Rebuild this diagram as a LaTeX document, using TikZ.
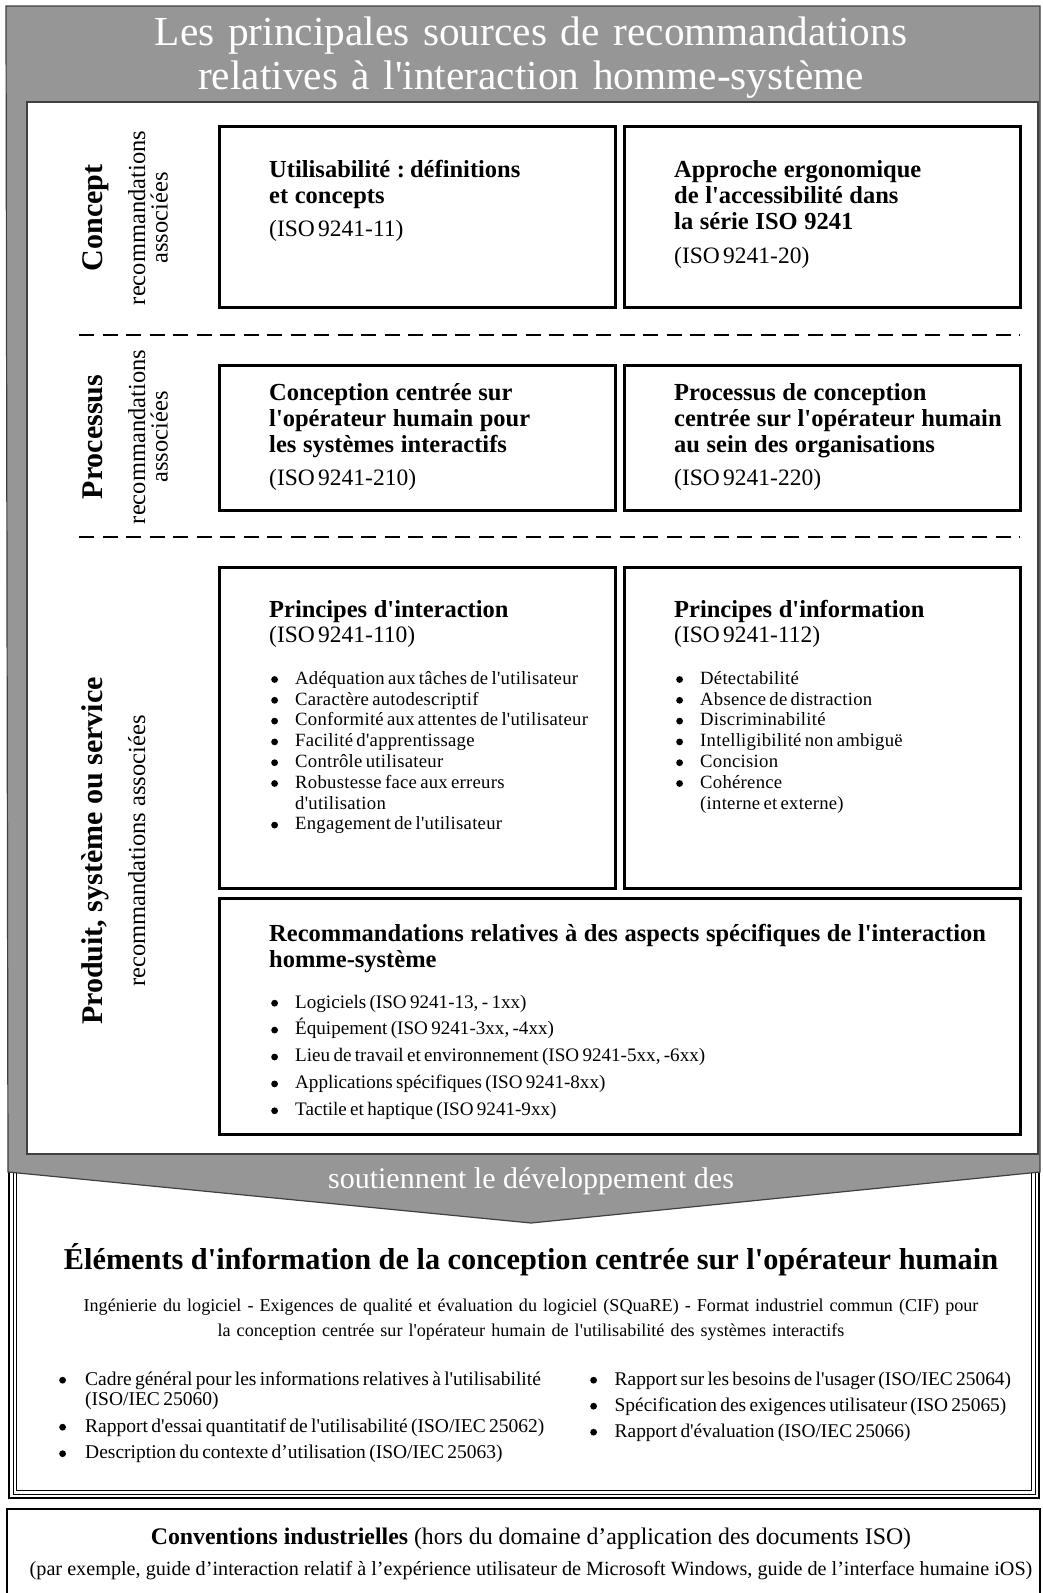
\documentclass[tikz,border=0pt]{standalone}
\usepackage{fontspec}
\setmainfont{Liberation Serif}[Ligatures=TeXOff]
\usetikzlibrary{positioning}
\definecolor{bandgray}{RGB}{150,150,150}
\definecolor{edgegray}{RGB}{64,64,64}
\newcommand{\hdfont}{\fontsize{24.5}{26}\selectfont\bfseries\spaceskip=.27em plus .1em}
\newcommand{\isofont}[1][32.5]{\fontsize{23.5}{#1}\selectfont}
\newcommand{\itfont}{\fontsize{18.7}{20.8}\selectfont\addfontfeature{LetterSpace=1.4}}
\newcommand{\dotmark}{\tikz[baseline=0pt]{\fill (3.4pt,4.8pt) circle[radius=3.4pt];}}
% first item of a list (paragraph already open), then the next ones
\newcommand{\bfirst}[2][26pt]{\noindent\hangindent=#1\hangafter=1\makebox[#1][l]{\hspace{2pt}\smash{\dotmark}}#2}
\newcommand{\bitem}[2][26pt]{\par\bfirst[#1]{#2}}
\begin{document}
\begin{tikzpicture}[x=1pt,y=-1pt,
	srcbox/.style={draw,line width=3pt,fill=white,anchor=north west,inner sep=0pt,outer sep=0pt},
	boxtext/.style={anchor=base west,inner sep=0pt,text width=#1,align=left},
	boxtext/.default=480,
	sidehead/.style={rotate=90,anchor=base,inner sep=0pt,font=\fontsize{30}{30}\selectfont\bfseries},
	sidesub/.style={rotate=90,anchor=base,inner sep=0pt,font=\fontsize{24.5}{24.5}\selectfont},
	sepline/.style={line width=2pt,dash pattern=on 15pt off 8.5pt}]
	\useasboundingbox (0,0) rectangle (1042,1593);
	% lower frame and conventions box
	\draw[line width=2.5pt] (9,1150) rectangle (1039,1498);
	\draw[line width=0.8pt] (13,1150) rectangle (1035,1494);
	\draw[line width=0.8pt] (16.5,1150) rectangle (1031.5,1490.5);
	\draw[line width=1.5pt] (7,1509) rectangle (1040,1600);
	% gray band with arrow
	\draw[edgegray,line width=1.2pt,fill=bandgray] (6,6) -- (1040,6) -- (1040,1172) -- (531,1223) -- (8,1172) -- cycle;
	\node[text=white,text width=1000,align=center,anchor=base,inner sep=0pt,font=\fontsize{41.3}{44}\selectfont] (title) at (531,45) {Les principales sources de recommandations\\relatives à l'interaction homme-système};
	\node[text=white,anchor=base,inner sep=0pt,font=\fontsize{30}{30}\selectfont] (support) at (531,1188) {soutiennent le développement des};
	\node[draw=edgegray,line width=1.5pt,fill=white,anchor=north west,outer sep=0pt,minimum width=1011,minimum height=1052,inner sep=0pt] (panel) at (27,102) {};
	% side labels
	\node[sidehead] (concept) at (102.5,218) {Concept};
	\node[sidesub] (conceptsub) at (145,218) {recommandations};
	\node[sidesub] (conceptsub2) at (167.5,218) {associées};
	\node[sidehead] (process) at (102.5,437) {Processus};
	\node[sidesub] (processsub) at (145,437) {recommandations};
	\node[sidesub] (processsub2) at (167.5,437) {associées};
	\node[sidehead] (product) at (102.5,851) {Produit, système ou service};
	\node[sidesub] (productsub) at (145,851) {recommandations associées};
	% separators
	\draw[sepline] (79,335) -- (1020,335);
	\draw[sepline] (79,537) -- (1020,537);
	% source boxes
	\node[srcbox,minimum width=396,minimum height=181] (usab) at (219,126) {};
	\node[srcbox,minimum width=396,minimum height=181] (acces) at (624,126) {};
	\node[srcbox,minimum width=396,minimum height=145] (hcd) at (219,365) {};
	\node[srcbox,minimum width=396,minimum height=145] (orga) at (624,365) {};
	\node[srcbox,minimum width=396,minimum height=321] (inter) at (219,567) {};
	\node[srcbox,minimum width=396,minimum height=321] (info) at (624,567) {};
	\node[srcbox,minimum width=801,minimum height=236] (spec) at (219,898) {};
	% box texts
	\node[boxtext] (usabtxt) at ([shift={(50,51.5)}]usab.north west) {{\hdfont Utilisabilité : définitions\\et concepts\par}{\isofont(ISO 9241-11)\par}};
	\node[boxtext] (accestxt) at ([shift={(50,51.5)}]acces.north west) {{\hdfont Approche ergonomique\\de l'accessibilité dans\\la série ISO 9241\par}{\isofont[33.5](ISO 9241-20)\par}};
	\node[boxtext] (hcdtxt) at ([shift={(50,35)}]hcd.north west) {{\hdfont Conception centrée sur\\l'opérateur humain pour\\les systèmes interactifs\par}{\isofont[33](ISO 9241-210)\par}};
	\node[boxtext] (orgatxt) at ([shift={(50,35)}]orga.north west) {{\hdfont Processus de conception\\centrée sur l'opérateur humain\\au sein des organisations\par}{\isofont[33](ISO 9241-220)\par}};
	\node[boxtext] (intertxt) at ([shift={(50,50)}]inter.north west) {{\hdfont Principes d'interaction\par}{\isofont[25](ISO 9241-110)\par}\vspace{21.5pt}{\itfont
		\bitem{Adéquation aux tâches de l'utilisateur}
		\bitem{Caractère autodescriptif}
		\bitem{Conformité aux attentes de l'utilisateur}
		\bitem{Facilité d'apprentissage}
		\bitem{Contrôle utilisateur}
		\bitem{Robustesse face aux erreurs\newline d'utilisation}
		\bitem{Engagement de l'utilisateur}\par}};
	\node[boxtext] (infotxt) at ([shift={(50,50)}]info.north west) {{\hdfont Principes d'information\par}{\isofont[25](ISO 9241-112)\par}\vspace{21.5pt}{\itfont
		\bitem{Détectabilité}
		\bitem{Absence de distraction}
		\bitem{Discriminabilité}
		\bitem{Intelligibilité non ambiguë}
		\bitem{Concision}
		\bitem{Cohérence\newline(interne et externe)}\par}};
	\node[boxtext=760] (spectxt) at ([shift={(50,43)}]spec.north west) {{\hdfont Recommandations relatives à des aspects spécifiques de l'interaction\\homme-système\par}\vspace{20.2pt}{\fontsize{19.1}{20.8}\selectfont
		\bitem{Logiciels (ISO 9241-13, - 1xx)}\setlength{\parskip}{6.1pt}
		\bitem{Équipement (ISO 9241-3xx, -4xx)}
		\bitem{Lieu de travail et environnement (ISO 9241-5xx, -6xx)}
		\bitem{Applications spécifiques (ISO 9241-8xx)}
		\bitem{Tactile et haptique (ISO 9241-9xx)}\par}};
	% information items
	\node[anchor=base,inner sep=0pt,font=\fontsize{30.3}{30}\selectfont\bfseries] (elem) at (531,1269) {Éléments d'information de la conception centrée sur l'opérateur humain};
	\node[anchor=base,inner sep=0pt,text width=1000,align=center,font=\fontsize{18.1}{25}\selectfont] (square) at (531,1311) {Ingénierie du logiciel - Exigences de qualité et évaluation du logiciel (SQuaRE) - Format industriel commun (CIF) pour\\la conception centrée sur l'opérateur humain de l'utilisabilité des systèmes interactifs};
	\node[boxtext=520] (cifleft) at (57,1385) {\fontsize{19.5}{20.5}\selectfont
		\bfirst[28pt]{Cadre général pour les informations relatives à l'utilisabilité\newline(ISO/IEC 25060)}\setlength{\parskip}{6pt}
		\bitem[28pt]{Rapport d'essai quantitatif de l'utilisabilité (ISO/IEC 25062)}
		\bitem[28pt]{Description du contexte d’utilisation (ISO/IEC 25063)}\par};
	\node[boxtext=460] (cifright) at (588,1385) {\fontsize{19.4}{20.5}\selectfont
		\bfirst[26.5pt]{Rapport sur les besoins de l'usager (ISO/IEC 25064)}\setlength{\parskip}{5.5pt}
		\bitem[26.5pt]{Spécification des exigences utilisateur (ISO 25065)}
		\bitem[26.5pt]{Rapport d'évaluation (ISO/IEC 25066)}\par};
	% industrial conventions
	\node[anchor=base,inner sep=0pt,font=\fontsize{23.8}{24}\selectfont] (conv) at (531,1544) {\textbf{Conventions industrielles} (hors du domaine d’application des documents ISO)};
	\node[anchor=base,inner sep=0pt,font=\fontsize{20.2}{21}\selectfont] (convex) at (531,1575) {(par exemple, guide d’interaction relatif à l’expérience utilisateur de Microsoft Windows, guide de l’interface humaine iOS)};
\end{tikzpicture}
\end{document}
